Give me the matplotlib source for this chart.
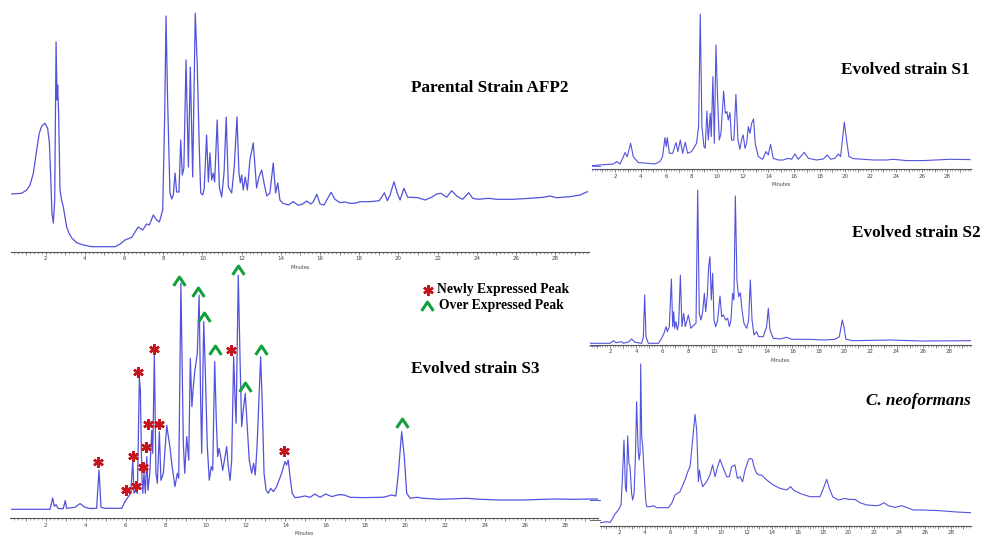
import matplotlib
matplotlib.use("Agg")
import matplotlib.pyplot as plt
from matplotlib.ticker import MultipleLocator, FuncFormatter
from matplotlib.path import Path
from matplotlib.lines import Line2D

# ---------------- data (retention time in minutes, detector signal) ----------------
parent_t = [0.27, 0.77, 1.03, 1.2, 1.37, 1.54, 1.67, 1.8, 1.96, 2.1, 2.19, 2.25, 2.32, 2.39, 2.46,
            2.53, 2.58, 2.61, 2.66, 2.73, 2.81, 2.9, 2.98, 3.07, 3.19, 3.33, 3.58, 3.92, 4.34, 4.77,
            5.54, 5.8, 6.05, 6.39, 6.72, 6.95, 7.15, 7.29, 7.49,
            7.66, 7.8, 7.97, 8.07, 8.14, 8.22, 8.34, 8.43, 8.51, 8.6, 8.68, 8.8, 8.89, 8.97, 9.05,
            9.16, 9.28, 9.38, 9.5, 9.63, 9.73, 9.84, 9.91, 10.01, 10.09, 10.21, 10.3, 10.38, 10.47,
            10.55, 10.62, 10.75, 10.86, 10.98, 11.1, 11.21, 11.32, 11.49, 11.62, 11.76, 11.86, 11.93,
            12.0, 12.08, 12.18, 12.29, 12.42, 12.59, 12.68, 12.76, 12.88, 13.02, 13.14, 13.28, 13.44,
            13.61, 13.73, 13.84, 13.95, 14.1, 14.38, 14.63, 14.89, 15.11, 15.32, 15.52, 15.65, 15.83,
            16.0, 16.2, 16.56, 16.76, 17.02, 17.27, 17.53, 17.78, 18.04, 18.55, 19.02, 19.14, 19.28,
            19.43, 19.57, 19.77, 19.94, 20.08, 20.28, 20.47, 20.67, 21.0, 21.35, 21.69, 21.95, 22.17,
            22.46, 22.71, 22.97, 23.27, 23.58, 23.79, 24.07, 24.58, 25.01, 25.86, 26.71, 27.39, 27.73,
            28.07, 28.75, 29.26, 29.64]
parent_v = [58, 58.7, 62, 67, 78.7, 102, 118.7, 126, 128.7, 123.7, 108.7, 78.7, 38.7, 29, 52,
            210, 152, 167, 139, 62, 52, 45, 35.3, 25, 18.7, 14, 9.3, 7, 5.3, 5.3,
            5.3, 8, 12, 14.7, 25, 22, 28, 27, 37,
            32, 30, 42, 135, 236, 152, 59, 53, 57, 79, 60, 60, 112, 77, 84,
            192, 85, 185, 75, 238.7, 189, 102, 59, 57, 64, 117, 70, 99, 72,
            79, 70, 132, 65, 55, 79, 135, 65, 59, 85, 135, 79, 69,
            77, 62, 75, 62, 92, 109, 85, 64, 75, 82, 69, 56, 59,
            89, 59, 69, 52, 48.7, 47, 50.3, 46.7, 48, 51, 48, 50, 57.7,
            48, 47, 59.7, 52.7, 49.3, 50, 48.7, 48.7, 50.3, 50.3, 51.3, 54.7, 59.3,
            51.3, 57, 70.3, 58.7, 52, 63.7, 54.7, 54.7, 54.3, 52, 54.7, 58, 58.7,
            54.7, 61.3, 56, 52.7, 59.3, 53.7, 52.7, 53.7, 52.7, 52.7, 53.7, 54.7, 56,
            54.3, 55.3, 57, 60.3]

s3_t = [0.3, 2.22, 2.35, 2.43, 2.52, 2.63, 2.88, 2.98, 3.05, 3.47, 3.72, 3.97, 4.22, 4.55, 4.67,
        4.77, 4.97, 5.81, 5.97, 6.14, 6.26, 6.36, 6.42, 6.51, 6.59, 6.69, 6.74, 6.81, 6.86, 6.92,
        6.99, 7.06, 7.12, 7.21, 7.31, 7.36, 7.44, 7.52, 7.59, 7.69, 7.77, 7.89, 8.06, 8.22, 8.31,
        8.47, 8.59, 8.66, 8.77, 8.89, 8.96, 9.06, 9.16, 9.24, 9.32, 9.39, 9.47, 9.59, 9.68, 9.76,
        9.81, 9.91, 9.99, 10.09, 10.19, 10.29, 10.36, 10.46, 10.54, 10.61, 10.68, 10.76, 10.86,
        10.98, 11.06, 11.14, 11.23, 11.31, 11.41, 11.48, 11.53, 11.64, 11.73, 11.81, 11.89, 11.99,
        12.09, 12.19, 12.31, 12.41, 12.49, 12.58, 12.76, 12.84, 12.93, 13.03, 13.14, 13.26, 13.4,
        13.56, 13.81, 13.98, 14.06, 14.14, 14.23, 14.34, 14.48, 14.65, 14.98, 15.23, 15.48, 15.73,
        16.02, 16.32, 16.68, 16.95, 17.23, 17.9, 18.9, 19.32, 19.53, 19.65, 19.82, 19.95, 20.07,
        20.24, 20.57, 20.9, 21.74, 23.07, 23.74, 24.74, 25.91, 27.41, 28.41, 29.24, 29.64]
s3_v = [9, 9, 20.3, 12, 13.7, 9.7, 9.7, 17.7, 10, 11, 14.7, 11, 9.7, 10, 48.3,
        11, 10, 10, 16.7, 21.7, 25, 58.3, 25, 28, 25, 140, 128, 45, 25, 45,
        25, 61.7, 28, 45, 88, 65, 163, 45, 35, 86.7, 38, 45, 93, 71, 55,
        31.7, 45, 40, 235, 75, 45, 81.7, 58, 160, 111.7, 131.7, 148, 165, 223, 115,
        65, 196.7, 148, 71.7, 38, 51.7, 48, 156.7, 98, 61.7, 70, 61.7, 48,
        61.7, 71.7, 51.7, 38, 58, 161.7, 118, 95, 243, 158, 91.7, 108, 125,
        91.7, 58, 45, 55, 43.3, 71.7, 161.7, 115, 45, 28.3, 25, 30, 26.7,
        31.7, 45, 56.7, 53.3, 58.3, 41.7, 25, 20.7, 21, 22.3, 21, 24.3, 21,
        24.3, 21.7, 23.7, 23.3, 21, 20.7, 21, 23.3, 22.3, 44.7, 86.7, 61.7, 25,
        20, 21, 20, 19, 20, 19, 18.3, 18.3, 19.3, 19, 19.3, 19.3]

# peaks flagged in evolved strain S3
new_peak_t = [4.63, 6.01, 6.51, 6.36, 6.64, 7.42, 7.14, 7.66, 7.01, 6.87, 11.28, 13.94]
new_peak_v = [56.6, 28.3, 32.6, 62.3, 146.6, 169, 94, 94, 71, 51, 168.3, 67.3]
over_peak_t = [8.69, 9.64, 9.94, 10.48, 11.61, 11.98, 12.76, 19.82]
over_peak_v = [237.6, 226.6, 201, 168.3, 248.3, 131.6, 168.3, 95]

s1_t = [0.25, 1.87, 2.13, 2.39, 2.6, 2.78, 2.96, 3.22, 3.43, 3.82, 4.6, 5.12, 5.52, 5.72, 5.91,
        6.01, 6.09, 6.25, 6.51, 6.77, 6.92, 7.11, 7.29, 7.5, 7.68, 7.99, 8.38, 8.54, 8.67, 8.8,
        8.96, 9.06, 9.19, 9.3, 9.45, 9.53, 9.66, 9.77, 9.9, 10.03, 10.16, 10.29, 10.5, 10.63,
        10.76, 10.86, 10.99, 11.12, 11.3, 11.46, 11.62, 11.77, 11.93, 12.03, 12.17, 12.3, 12.43,
        12.56, 12.69, 12.84, 12.97, 13.21, 13.55, 13.81, 13.99, 14.17, 14.38, 14.77, 15.16, 15.55,
        15.82, 16.08, 16.34, 16.81, 17.12, 17.77, 18.29, 18.61, 18.87, 19.2, 19.47, 19.65, 19.94,
        20.12, 20.3, 20.64, 22.2, 23.25, 23.77, 24.81, 26.12, 28.2, 29.77]
s1_v = [3.7, 5.3, 7.7, 5.3, 11, 16.7, 12.7, 26, 12.7, 6.7, 6, 5.3, 7.7, 12.7, 31.7,
        22.7, 31.7, 16, 16, 26.7, 17.7, 29.3, 16, 27, 16, 17.7, 26, 42.7, 155.3, 42.7,
        22.7, 21, 58.3, 29.3, 56, 32.7, 92.7, 26, 124.3, 69.3, 29.3, 36, 78.3, 56,
        57.7, 49.3, 56.7, 29.3, 29.3, 75, 29.3, 20, 31, 34.3, 21, 26, 42.7,
        36, 46, 50.3, 26, 12.7, 10, 17.7, 14.3, 25, 11, 9.3, 9.3, 11,
        10, 15.3, 10, 17, 11, 9.3, 10.3, 14.3, 10, 11, 15.3, 12.7, 47,
        29.3, 12.7, 10.7, 9.3, 9.3, 10, 8.7, 8.7, 10, 9.7]

s2_t = [0.47, 2.0, 2.26, 2.46, 2.9, 3.02, 3.41, 3.66, 3.92, 4.43, 4.56, 4.66, 4.76, 4.94, 5.71,
        5.96, 6.14, 6.3, 6.4, 6.55, 6.71, 6.81, 6.89, 6.96, 7.06, 7.17, 7.27, 7.4, 7.52, 7.65,
        7.78, 8.01, 8.21, 8.44, 8.6, 8.73, 8.85, 8.98, 9.11, 9.24, 9.34, 9.47, 9.57, 9.67, 9.77,
        9.88, 9.98, 10.11, 10.26, 10.44, 10.57, 10.7, 10.87, 11.03, 11.16, 11.28, 11.41, 11.51,
        11.62, 11.74, 11.87, 12.0, 12.13, 12.28, 12.49, 12.64, 12.77, 12.9, 13.05, 13.25, 13.41,
        13.76, 14.02, 14.15, 14.28, 14.53, 15.04, 15.55, 15.94, 16.83, 17.35, 18.37, 19.26, 19.6,
        19.83, 19.95, 20.11, 20.67, 23.48, 26.04, 29.67]
s2_v = [1.7, 1.7, 4.3, 2.3, 3.3, 1.7, 3, 6, 2.7, 1.7, 8.3, 50, 8.3, 1.7, 1.7,
        6.7, 11.7, 18.3, 13.3, 18.3, 66, 18.3, 33.3, 16.7, 23.3, 15, 21.7, 69.7, 18.3, 31.7,
        18.3, 30, 16.7, 20, 21.7, 155, 31.7, 25, 33.3, 51.7, 33.3, 50, 78.3, 88.3, 45,
        71.7, 25, 18.3, 25, 49, 28.3, 30, 25, 26.7, 18.3, 25, 51.7, 45,
        149, 65, 48.3, 52.3, 35, 21.7, 16.7, 25, 65, 25, 10, 13.3, 8.3,
        8.3, 18.3, 36.7, 15, 6.7, 6, 7.7, 5.7, 5.7, 5.7, 5, 5.7, 8.3,
        25, 18.3, 5.7, 4.3, 5, 4, 4.3]

cn_t = [0.51, 1.03, 1.29, 1.43, 1.69, 1.95, 2.16, 2.26, 2.39, 2.5, 2.58, 2.68, 2.78, 2.86, 2.99,
        3.07, 3.18, 3.28, 3.38, 3.49, 3.57, 3.65, 3.7, 3.78, 3.86, 3.96, 4.09, 4.17, 4.43, 4.69,
        4.95, 5.87, 6.13, 6.39, 6.78, 7.17, 7.44, 7.57, 7.77, 7.96, 8.09, 8.22, 8.3, 8.4, 8.56,
        8.87, 9.13, 9.34, 9.53, 9.73, 9.92, 10.13, 10.44, 10.65, 10.83, 11.09, 11.28, 11.49, 11.69,
        11.88, 12.14, 12.27, 12.45, 12.58, 12.79, 12.97, 13.18, 13.58, 14.1, 14.62, 15.14, 15.46,
        15.67, 16.19, 16.97, 17.76, 18.02, 18.28, 18.49, 18.75, 19.19, 19.72, 19.98, 20.5, 20.89,
        21.42, 22.2, 22.46, 22.77, 23.11, 23.64, 24.16, 24.55, 25.07, 25.86, 27.16, 28.47, 29.57]
cn_v = [3, 4, 3.3, 5.7, 11.7, 15.7, 20.7, 45.7, 85.7, 39, 34, 89.7, 62.3, 59, 32.3,
        25.7, 32.3, 65.7, 124, 79, 65.7, 72.3, 161.7, 89, 79, 55.7, 25.7, 19, 19, 20,
        18, 18, 22.3, 30.7, 34, 45.7, 55.7, 59, 85.7, 111.3, 95.7, 44, 55.7, 47.3, 39,
        44, 50.7, 60.7, 49, 59, 66.3, 59, 49, 49, 59, 60.7, 47.3, 49, 44,
        55.7, 65.7, 67.3, 66.3, 59, 52.3, 50.7, 50.7, 45.7, 40.7, 37.3, 35.7, 39,
        35.7, 32.3, 29, 29, 37.3, 46.3, 37.3, 29, 25.7, 27.3, 26.3, 26.3, 23,
        20.7, 20, 20.7, 23, 20, 18.3, 20, 18.3, 15.7, 15.7, 15, 13.7, 13]

titles = ["Parental Strain AFP2", "Evolved strain S3", "Evolved strain S1",
          "Evolved strain S2", "C. neoformans"]
legend_labels = ["Newly Expressed Peak", "Over Expressed Peak"]

# ---------------- styling ----------------
W, H = 984, 535
LINE = "#5252dc"
RED = "#c4161c"
GREEN = "#12a03c"
SERIF = ["Liberation Serif", "DejaVu Serif"]

fig = plt.figure(figsize=(W / 100, H / 100), dpi=100)
fig.patch.set_facecolor("white")


def panel(left, right, axis_y, top, xlim, ylim, xlabel=True):
    ax = fig.add_axes([left / W, (H - axis_y) / H, (right - left) / W, (axis_y - top) / H])
    ax.set_xlim(*xlim)
    ax.set_ylim(*ylim)
    ax.patch.set_alpha(0)
    for s in ("top", "right", "left"):
        ax.spines[s].set_visible(False)
    ax.spines["bottom"].set_color("#555555")
    ax.spines["bottom"].set_linewidth(0.8)
    ax.set_yticks([])
    ax.xaxis.set_major_locator(MultipleLocator(1))
    ax.xaxis.set_minor_locator(MultipleLocator(0.2))
    ax.xaxis.set_major_formatter(FuncFormatter(lambda v, p: f"{int(round(v))}" if round(v) % 2 == 0 and v > 0.5 else ""))
    ax.tick_params(axis="x", which="major", length=2.2, width=0.5, color="#555555",
                   labelsize=4, labelcolor="#444444", pad=1)
    ax.tick_params(axis="x", which="minor", length=1.2, width=0.4, color="#666666")
    if xlabel:
        ax.set_xlabel("Minutes", fontsize=3.5, color="#444444", labelpad=2.5)
    return ax


ax_p = panel(11, 588.6, 252, 2, (0.23, 29.7), (0, 250))
ax_p.plot(parent_t, parent_v, color=LINE, lw=0.9, solid_joinstyle="round")

ax_3 = panel(10.1, 597.9, 518.3, 268.3, (0.22, 29.64), (0, 250))
ax_3.plot(s3_t, s3_v, color=LINE, lw=0.9, solid_joinstyle="round")

ax_1 = panel(591.6, 970.6, 169.3, 4.3, (0.17, 29.82), (0, 165))
ax_1.plot(s1_t, s1_v, color=LINE, lw=0.8, solid_joinstyle="round")

ax_2 = panel(590.1, 970.5, 345, 180, (0.47, 29.67), (0, 165))
ax_2.plot(s2_t, s2_v, color=LINE, lw=0.8, solid_joinstyle="round")

ax_c = panel(600, 970.7, 525.7, 360.7, (0.51, 29.57), (0, 165), xlabel=False)
ax_c.plot(cn_t, cn_v, color=LINE, lw=0.8, solid_joinstyle="round")

caret = Path([(-1.0, -0.75), (0.0, 0.75), (1.0, -0.75)],
             [Path.MOVETO, Path.LINETO, Path.LINETO])
star_kw = dict(marker=(6, 2, 0), ms=7.5, mew=1.8, color=RED, ls="none", clip_on=False, zorder=5)
caret_kw = dict(marker=caret, ms=8.5, mew=2.2, mfc="none", mec=GREEN, ls="none", clip_on=False, zorder=5)

ax_3.plot(new_peak_t, new_peak_v, **star_kw)
ax_3.plot(over_peak_t, over_peak_v, **caret_kw)

# ---------------- overlay for titles / legend ----------------
ov = fig.add_axes([0, 0, 1, 1])
ov.set_xlim(0, W)
ov.set_ylim(H, 0)
ov.axis("off")
ov.patch.set_alpha(0)

tkw = dict(fontsize=12.3, fontweight="bold", family=SERIF, ha="center", va="center", color="black")
ov.text(490, 88, titles[0], **tkw)
ov.text(475, 369, titles[1], **tkw)
ov.text(905, 70, titles[2], **tkw)
ov.text(916, 233, titles[3], **tkw)
ov.text(918, 401, titles[4], fontstyle="italic", **tkw)

ov.plot([427.5], [289.5], **star_kw)
ov.plot([426.5], [305.5], **caret_kw)
lkw = dict(fontsize=9.8, fontweight="bold", family=SERIF, ha="left", va="center", color="black")
ov.text(437, 289.5, legend_labels[0], **lkw)
ov.text(439, 305.5, legend_labels[1], **lkw)

# small axis remnants at the panel borders
for y0 in (166, 169):
    ov.add_line(Line2D([592, 600], [y0, y0], color=LINE, lw=0.6))
ov.add_line(Line2D([589, 600], [346, 346], color=LINE, lw=0.6, ls=(0, (1, 0.6))))
ov.add_line(Line2D([590, 600], [499.5, 499.5], color=LINE, lw=0.7))
ov.add_line(Line2D([590, 600], [519.5, 519.5], color="#555555", lw=0.6))

fig.savefig("out.png", dpi=100, facecolor="white")
